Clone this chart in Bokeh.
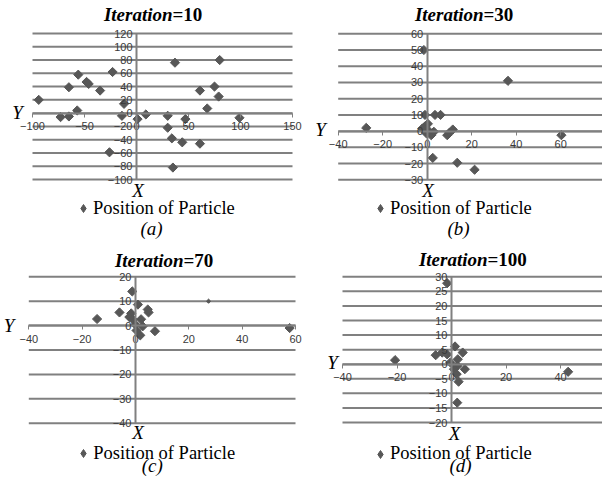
import numpy as np
from bokeh.plotting import figure
from bokeh.models import FixedTicker, Label, Legend, LegendItem, Range1d
from bokeh.layouts import gridplot
from bokeh.embed import file_html
from bokeh.resources import INLINE

# ---------------- data ----------------
iterations = ["10", "30", "70", "100"]
captions = ["(a)", "(b)", "(c)", "(d)"]
legend_label = "Position of Particle"

a_x = [-94, -73, -65, -65, -56, -57, -48, -46, -35, -23, -26, -12, -14, 1, 9, 30, 30, 34, 37,
       47, 44, 35, 61, 61, 68, 75, 79, 80, 99]
a_y = [20, -6, -5, 39, 58, 4, 47, 44, 34, 62, -59, 14, -4, -9, -2, -4, -22, -38, 76,
       -9, -44, -82, 34, -46, 7, 40, 25, 80, -7]

b_x = [-27.4, -1.5, 36.3, 60.3, -1, 3.5, 6, 9, 10, 11.5, 2.5, 13.5, 21.3,
       -2.2, -1.2, 0.3, 0.8, -0.3, 1.8, 3]
b_y = [2, 50, 31, -2.5, 10, 10, 10, -2.5, -1, 1, -16.5, -19.5, -23.8,
       1.6, 2.7, 4.5, 0, -1.4, -2.5, -0.4]

c_x = [-14.4, -6, -1.2, 0.9, -1.6, -2.3, 4.6, 4.9, -1, 2.1, 0, 2.7, 0.4, 7.3, 1.8, 57.8]
c_y = [2.7, 5.4, 14, 8.6, 5, 3.5, 6.6, 5.4, 2.5, 2.6, 0.4, -0.3, -2, -2.3, -4, -1]
c_small_x = [27.4]
c_small_y = [10]

d_x = [-1.6, -20.7, -5.8, -3.4, -1.6, 1.3, 4.1, -0.4, 2.3, 2.1, 0.9, 4.9, 1.9, 2.6, 2.1, 42.8]
d_y = [27.8, 1.4, 3.1, 4, 3.4, 6.1, 4, 0.6, 1.7, -0.6, -1.7, -1.7, -3.4, -6, -13.2, -2.6]

a_xticks = [-100, -50, 0, 50, 100, 150]
a_yticks = [-100, -80, -60, -40, -20, 0, 20, 40, 60, 80, 100, 120]
b_xticks = [-40, -20, 0, 20, 40, 60, 80]
b_yticks = [-30, -20, -10, 0, 10, 20, 30, 40, 50, 60]
c_xticks = [-40, -20, 0, 20, 40, 60]
c_yticks = [-40, -30, -20, -10, 0, 10, 20]
d_xticks = [-40, -20, 0, 20, 40, 60]
d_yticks = [-20, -15, -10, -5, 0, 5, 10, 15, 20, 25, 30]

# ---------------- layout (pixels from the layout's top-left corner) ----------------
GRID = "#808080"
MARK = "#575757"
TICK_TXT = "#3a3a3a"
SERIF = "Liberation Serif"
SANS = "Liberation Sans"
FS = 19  # px, serif texts

PANELS = [
    dict(origin=(0, 0), size=(305, 240), xmap=((-100, 32), (150, 292)), ymap=((120, 33), (-100, 179)),
         title=(172, 20.7), xlab=(137.5, 196.7), ylab=(17, 118.7),
         legend=(83, 208), caption=(151, 234)),
    dict(origin=(305, 0), size=(297, 240), xmap=((-40, 337.7), (80, 604.7)), ymap=((60, 33.3), (-30, 179.3)),
         title=(483, 20.7), xlab=(427.5, 196.7), ylab=(320, 135),
         legend=(380, 208), caption=(458, 234)),
    dict(origin=(0, 240), size=(305, 237), xmap=((-40, 28.3), (60, 295)), ymap=((20, 276.3), (-40, 422.7)),
         title=(183, 266), xlab=(137.5, 438.7), ylab=(8.5, 331),
         legend=(83.3, 453), caption=(151.7, 471.5)),
    dict(origin=(305, 240), size=(297, 237), xmap=((-40, 342), (0, 451)), ymap=((30, 276.3), (-20, 422)),
         title=(487, 265.5), xlab=(454, 439.3), ylab=(332, 368.7),
         legend=(380, 453.7), caption=(460, 471.5)),
]


def make_panel(spec, xs, ys, xticks, yticks, iteration, caption, small=None):
    ox, oy = spec["origin"]
    W, H = spec["size"]
    (xa, pxa), (xb, pxb) = spec["xmap"]
    (ya, pya), (yb, pyb) = spec["ymap"]
    kx = (xb - xa) / (pxb - pxa)
    ky = (yb - ya) / (pyb - pya)

    def dx(px):
        return xa + (px - pxa) * kx

    def dy(py):
        return ya + (py - pya) * ky

    # the frame covers the whole figure, so nothing outside the plot area is clipped
    p = figure(width=W, height=H,
               x_range=Range1d(dx(ox), dx(ox + W)), y_range=Range1d(dy(oy + H), dy(oy)),
               output_backend="svg", toolbar_location=None,
               min_border_left=0, min_border_right=0, min_border_top=0, min_border_bottom=0)
    p.outline_line_color = None
    p.background_fill_color = "white"
    p.border_fill_color = "white"
    p.xgrid.visible = False
    p.ygrid.visible = False

    # horizontal gridlines across the plot area, one per y tick
    n = len(yticks)
    p.segment(x0=[xticks[0]] * n, x1=[xticks[-1]] * n, y0=yticks, y1=yticks,
              line_color=GRID, line_width=2)

    xax = p.xaxis[0]
    xax.fixed_location = 0
    xax.bounds = (xticks[0], xticks[-1])
    xax.ticker = FixedTicker(ticks=xticks)
    xax.axis_line_color = GRID
    xax.axis_line_width = 2
    xax.major_tick_line_color = GRID
    xax.major_tick_line_width = 1
    xax.major_tick_out = 4
    xax.major_tick_in = 0
    xax.minor_tick_out = 0
    xax.minor_tick_in = 0
    xax.major_label_standoff = 5
    xax.major_label_text_font = SANS
    xax.major_label_text_font_size = "11px"
    xax.major_label_text_color = TICK_TXT

    yax = p.yaxis[0]
    yax.fixed_location = 0
    yax.bounds = (yticks[0], yticks[-1])
    yax.ticker = FixedTicker(ticks=yticks)
    yax.axis_line_color = GRID
    yax.axis_line_width = 2
    yax.major_tick_out = 0
    yax.major_tick_in = 0
    yax.minor_tick_out = 0
    yax.minor_tick_in = 0
    yax.major_label_standoff = 4
    yax.major_label_text_font = SANS
    yax.major_label_text_font_size = "11px"
    yax.major_label_text_color = TICK_TXT

    p.scatter(xs, ys, marker="square", angle=np.pi / 4, size=6.5,
              fill_color=MARK, line_color=MARK)
    # legend swatch: a diamond marker hidden under the first point (legends ignore marker angle)
    r_leg = p.scatter(xs[:1], ys[:1], marker="diamond", size=6,
                      fill_color=MARK, line_color=MARK)
    if small is not None:
        p.scatter(small[0], small[1], marker="square", angle=np.pi / 4, size=3,
                  fill_color=MARK, line_color=MARK)

    def lab(text, px, baseline, align, style="normal"):
        p.add_layout(Label(x=dx(px), y=dy(baseline - 0.34 * FS), text=text, text_align=align,
                           text_baseline="middle", text_font=SERIF,
                           text_font_size=f"{FS}px", text_font_style=style, text_color="black"))

    tx, ty = spec["title"]
    lab("Iteration", tx, ty, "right", "bold italic")
    lab("=" + iteration, tx, ty, "left", "bold")
    lab("X", spec["xlab"][0], spec["xlab"][1], "center", "italic")
    lab("Y", spec["ylab"][0], spec["ylab"][1], "center", "italic")
    lab(caption, spec["caption"][0], spec["caption"][1], "center", "italic")

    gw, gh = 20, 22
    cx, cy = spec["legend"]
    leg = Legend(items=[LegendItem(label=legend_label, renderers=[r_leg])],
                 location=(cx - gw / 2 - ox, oy + H - (cy + gh / 2)),
                 glyph_width=gw, glyph_height=gh, label_standoff=0,
                 padding=0, margin=0, spacing=0,
                 border_line_color=None, background_fill_alpha=0,
                 label_text_font=SERIF, label_text_font_size="18.5px", label_text_color="black")
    p.add_layout(leg)
    return p


pa = make_panel(PANELS[0], a_x, a_y, a_xticks, a_yticks, iterations[0], captions[0])
pb = make_panel(PANELS[1], b_x, b_y, b_xticks, b_yticks, iterations[1], captions[1])
pc = make_panel(PANELS[2], c_x, c_y, c_xticks, c_yticks, iterations[2], captions[2],
                small=(c_small_x, c_small_y))
pd = make_panel(PANELS[3], d_x, d_y, d_xticks, d_yticks, iterations[3], captions[3])

grid = gridplot([[pa, pb], [pc, pd]], toolbar_location=None)

open("out.html", "w").write(file_html(grid, INLINE))
